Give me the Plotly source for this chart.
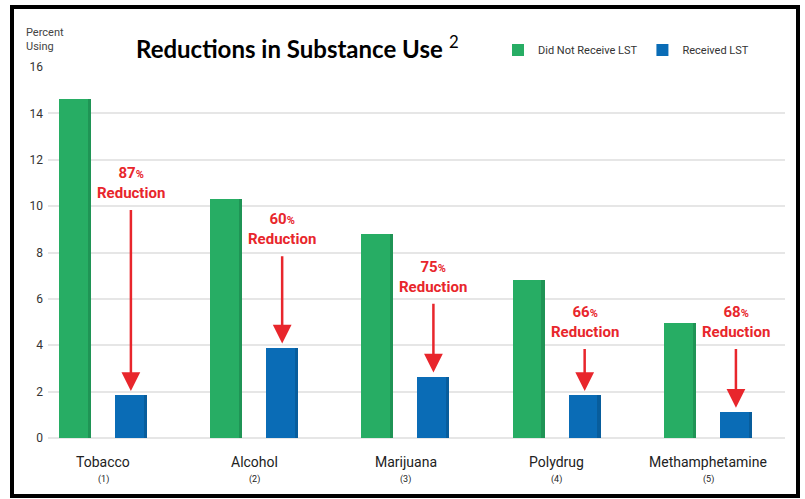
import plotly.graph_objects as go
import numpy as np

categories = ["Tobacco", "Alcohol", "Marijuana", "Polydrug", "Methamphetamine"]
codes = ["(1)", "(2)", "(3)", "(4)", "(5)"]
no_lst = [14.6, 10.3, 8.8, 6.8, 4.95]
lst = [1.85, 3.9, 2.65, 1.85, 1.12]
reductions = ["87", "60", "75", "66", "68"]
y_ticks = [0, 2, 4, 6, 8, 10, 12, 14, 16]

# layout helpers (positions, not data)
arrow_tail = [9.9, 7.9, 5.85, 3.9, 3.9]

GREEN = "#27ad64"
GREEN_D = "#1f9455"
BLUE = "#0a6cb6"
BLUE_D = "#085d9c"
RED = "#e8262c"
FONT_N = "Roboto"

W, H = 805, 499
L, R, T, B = 48, 20, 67, 61
PW, PH = W - L - R, H - T - B

def px(xp):
    return (xp - L) / PW

def py(yp):
    return (H - B - yp) / PH

xs = np.arange(len(categories))
bw = 0.211
g_off = -0.291
b_off = 0.079
side = 0.022

fig = go.Figure()
fig.add_trace(go.Bar(x=xs, y=no_lst, offset=g_off, width=bw, marker_color=GREEN,
                     marker_line_width=0, name="Did Not Receive LST"))
fig.add_trace(go.Bar(x=xs, y=no_lst, offset=g_off + bw - side, width=side, marker_color=GREEN_D,
                     marker_line_width=0, showlegend=False, hoverinfo="skip"))
fig.add_trace(go.Bar(x=xs, y=lst, offset=b_off, width=bw, marker_color=BLUE,
                     marker_line_width=0, name="Received LST"))
fig.add_trace(go.Bar(x=xs, y=lst, offset=b_off + bw - side, width=side, marker_color=BLUE_D,
                     marker_line_width=0, showlegend=False, hoverinfo="skip"))

annotations = []
bx = b_off + bw / 2
for i, (v, r, tail) in enumerate(zip(lst, reductions, arrow_tail)):
    annotations.append(dict(x=xs[i] + bx, y=v + 0.18, ax=xs[i] + bx, ay=tail,
                            xref="x", yref="y", axref="x", ayref="y", text="",
                            showarrow=True, arrowhead=2, arrowsize=1.5, arrowwidth=2.5,
                            arrowcolor=RED, standoff=0, startstandoff=0))
    annotations.append(dict(x=xs[i] + bx, y=tail + 0.2, xref="x", yref="y",
                            text=f"{r}<span style='font-size:11px'>%</span><br>Reduction",
                            showarrow=False, yanchor="bottom", xanchor="center",
                            font=dict(family=FONT_N, size=15, color=RED, weight="bold"),
                            align="center"))
    annotations.append(dict(x=xs[i], y=py(462), xref="x", yref="paper", text=categories[i],
                            showarrow=False, yanchor="middle",
                            font=dict(family=FONT_N, size=14, color="#222")))
    annotations.append(dict(x=xs[i], y=py(479), xref="x", yref="paper", text=codes[i],
                            showarrow=False, yanchor="middle",
                            font=dict(family=FONT_N, size=9, color="#222")))

annotations.append(dict(x=px(297), y=py(47), xref="paper", yref="paper",
                        text="<b>Reductions in Substance Use</b> <sup>2</sup>",
                        showarrow=False, xanchor="center", yanchor="middle",
                        font=dict(family="Lato", size=24, color="#000")))
annotations.append(dict(x=px(24), y=py(39), xref="paper", yref="paper",
                        text="Percent<br>Using", showarrow=False, xanchor="left",
                        yanchor="middle", align="left",
                        font=dict(family=FONT_N, size=11, color="#444")))

shapes = [
    dict(type="rect", xref="paper", yref="paper", x0=px(112), x1=px(493),
         y0=py(69), y1=py(65), fillcolor="white", line_width=0, layer="above"),
    dict(type="rect", xref="paper", yref="paper", x0=px(12), x1=px(798),
         y0=py(496), y1=py(7), line=dict(color="black", width=4), fillcolor="rgba(0,0,0,0)",
         layer="above"),
]

fig.update_layout(
    width=W, height=H, margin=dict(l=L, r=R, t=T, b=B),
    paper_bgcolor="white", plot_bgcolor="white",
    barmode="overlay", bargap=0,
    showlegend=True,
    legend=dict(orientation="h", x=px(498), y=py(50), xanchor="left", yanchor="middle",
                font=dict(family=FONT_N, size=11, color="#333"), bgcolor="rgba(0,0,0,0)",
                itemwidth=30, traceorder="normal"),
    xaxis=dict(range=[-0.3636, 4.509], showticklabels=False, showgrid=False,
               zeroline=False, showline=False, ticks=""),
    yaxis=dict(range=[0, 16], tickvals=y_ticks, showgrid=True, gridcolor="#e6e6e6",
               gridwidth=1.5, zeroline=True, zerolinecolor="#e6e6e6", zerolinewidth=1.5,
               showline=False, ticks="", tickfont=dict(family=FONT_N, size=12, color="#333"),
               ticklabelstandoff=4),
    annotations=annotations, shapes=shapes,
)

fig.write_html("out.html")
